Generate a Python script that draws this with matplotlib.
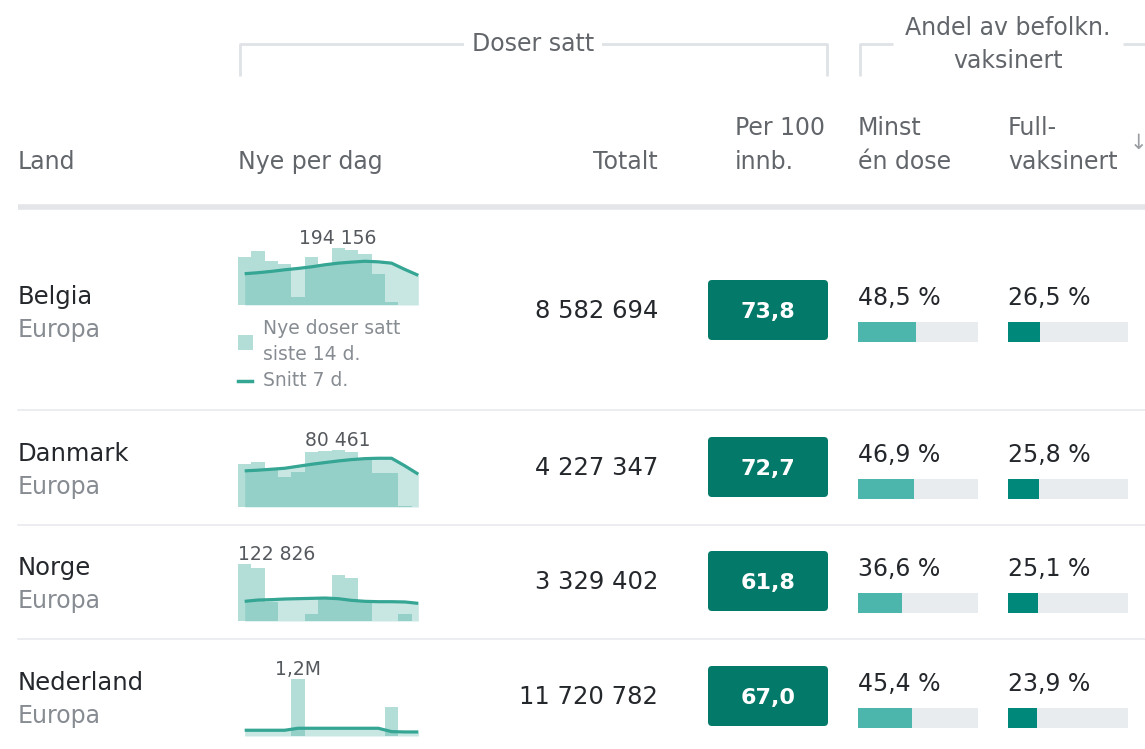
import numpy as np
import matplotlib
matplotlib.use("Agg")
import matplotlib.pyplot as plt
from matplotlib.patches import FancyBboxPatch, Rectangle

plt.rcParams["font.family"] = ["DejaVu Sans"]

# ── data ──
countries = ["Belgia", "Danmark", "Norge", "Nederland"]
regions = ["Europa", "Europa", "Europa", "Europa"]
totals = ["8 582 694", "4 227 347", "3 329 402", "11 720 782"]
per100 = ["73,8", "72,7", "61,8", "67,0"]
one_dose = [48.5, 46.9, 36.6, 45.4]
full_dose = [26.5, 25.8, 25.1, 23.9]
peak_labels = ["194 156", "80 461", "122 826", "1,2M"]

# new doses per day, last 14 days
daily_be = [162700, 185000, 151500, 138000, 28000, 165000, 134700, 194156, 187400, 174000, 106600, 11000, 0, 0]
daily_dk = [60800, 64000, 55700, 42000, 49000, 77000, 79000, 80461, 77000, 67800, 47700, 47700, 2000, 0]
daily_no = [122826, 113500, 41600, 0, 0, 15000, 46700, 99000, 92000, 42000, 0, 0, 15000, 0]
daily_nl = [0, 0, 0, 0, 1200000, 0, 0, 0, 0, 0, 0, 618000, 0, 0]

# 7-day average
avg_be = [106600, 110000, 114500, 120000, 124600, 130000, 137000, 142500, 146000, 149000, 147000, 142500, 121000, 101000]
avg_dk = [51000, 52000, 53300, 54700, 57500, 60300, 62700, 65000, 66900, 68300, 68800, 68800, 58000, 46300]
avg_no = [42400, 45200, 46000, 47400, 48100, 48800, 49500, 48100, 44500, 42400, 41600, 41600, 41000, 38000]
avg_nl = [121000, 121000, 121000, 121000, 163000, 163000, 163000, 163000, 163000, 163000, 163000, 92000, 85000, 85000]

daily = [daily_be, daily_dk, daily_no, daily_nl]
averages = [avg_be, avg_dk, avg_no, avg_nl]

# ── layout (pixels) ──
W, H = 1145, 749
row_centers = [310, 467, 581, 696]
spark_base = [305, 507, 621, 736]
separators = [410, 525, 639]

HEAD = "#62666b"
DARK = "#24272b"
MUTED = "#878c92"
TEAL = "#4fb3a6"
LINE = "#35a594"
BOX = "#037a69"
FILL_LIGHT = "#4db6ac"
FILL_DARK = "#00897a"
TRACK = "#e9ecef"
RULE = "#dfe2e6"
FS = 17          # header size
FN = 17.5        # country names / totals
FP = 17          # percentages, region

fig = plt.figure(figsize=(W / 100, H / 100), dpi=100)
ax = fig.add_axes([0, 0, 1, 1])
ax.set_xlim(0, W)
ax.set_ylim(H, 0)
ax.axis("off")

# ── group headers ──
ax.plot([240, 240, 827, 827], [76, 44, 44, 76], color=RULE, lw=2, solid_capstyle="butt")
ax.text(533, 51, "Doser satt", ha="center", va="baseline", fontsize=FS, color=HEAD,
        bbox=dict(facecolor="white", edgecolor="none", pad=6))
ax.plot([860, 860, 893], [76, 44, 44], color=RULE, lw=2, solid_capstyle="butt")
ax.plot([1123, 1145], [44, 44], color=RULE, lw=2, solid_capstyle="butt")
ax.text(1008, 35, "Andel av befolkn.", ha="center", va="baseline", fontsize=FS, color=HEAD)
ax.text(1008, 68, "vaksinert", ha="center", va="baseline", fontsize=FS, color=HEAD)

# ── column headers ──
ax.text(18, 169, "Land", ha="left", va="baseline", fontsize=FS, color=HEAD)
ax.text(238, 169, "Nye per dag", ha="left", va="baseline", fontsize=FS, color=HEAD)
ax.text(658, 169, "Totalt", ha="right", va="baseline", fontsize=FS, color=HEAD)
ax.text(735, 135, "Per 100", ha="left", va="baseline", fontsize=FS, color=HEAD)
ax.text(735, 169, "innb.", ha="left", va="baseline", fontsize=FS, color=HEAD)
ax.text(858, 135, "Minst", ha="left", va="baseline", fontsize=FS, color=HEAD)
ax.text(858, 169, "én dose", ha="left", va="baseline", fontsize=FS, color=HEAD)
ax.text(1008, 135, "Full-", ha="left", va="baseline", fontsize=FS, color=HEAD)
ax.text(1008, 169, "vaksinert", ha="left", va="baseline", fontsize=FS, color=HEAD)
ax.text(1138, 143, "↓", ha="center", va="center", fontsize=15, color="#9a9ea3")

ax.plot([18, W], [207, 207], color="#e3e5e8", lw=4, solid_capstyle="butt")
for y in separators:
    ax.plot([18, W], [y, y], color="#e8eaed", lw=1.2)

# ── rows ──
for i, c in enumerate(countries):
    yc = row_centers[i]
    ax.text(18, yc - 6, c, ha="left", va="baseline", fontsize=FN, color=DARK)
    ax.text(18, yc + 27, regions[i], ha="left", va="baseline", fontsize=FP, color=MUTED)
    ax.text(658, yc + 8, totals[i], ha="right", va="baseline", fontsize=FN, color=DARK)

    box = FancyBboxPatch((708, yc - 30), 120, 60, boxstyle="round,pad=0,rounding_size=4",
                         facecolor=BOX, edgecolor="none")
    ax.add_patch(box)
    ax.text(768, yc + 8, per100[i], ha="center", va="baseline", fontsize=16,
            color="white", fontweight="bold")

    ax.text(858, yc - 5, f"{one_dose[i]:.1f} %".replace(".", ","), ha="left",
            va="baseline", fontsize=FP, color=DARK)
    ax.text(1008, yc - 5, f"{full_dose[i]:.1f} %".replace(".", ","), ha="left",
            va="baseline", fontsize=FP, color=DARK)

    # progress bars
    for x0, val, col in [(858, one_dose[i], FILL_LIGHT), (1008, full_dose[i], FILL_DARK)]:
        pax = fig.add_axes([x0 / W, 1 - (yc + 32) / H, 120 / W, 20 / H])
        pax.barh([0], [100], height=1, color=TRACK)
        pax.barh([0], [val], height=1, color=col)
        pax.set_xlim(0, 100)
        pax.set_ylim(-0.5, 0.5)
        pax.axis("off")

    # sparkline: daily bars as one stepped polygon (no seams), 7-day avg as area + line
    vals = daily[i]
    avg = averages[i]
    xs = np.arange(len(vals))
    edges = np.arange(len(vals) + 1) - 0.5
    yb = spark_base[i]
    sax = fig.add_axes([238 / W, 1 - yb / H, 187 / W, 57 / H])
    sax.stairs(vals, edges, fill=True, color=TEAL, alpha=0.43, linewidth=0)
    sax.fill_between(xs, 0, avg, color=TEAL, alpha=0.31, linewidth=0)
    sax.plot(xs, avg, color=LINE, lw=2.3, solid_capstyle="butt")
    sax.set_xlim(-0.5, 13.5)
    sax.set_ylim(0, max(vals))
    sax.axis("off")
    k = int(np.argmax(vals))
    if k < 3:
        sax.text(-0.5, max(vals), peak_labels[i], ha="left", va="bottom", fontsize=13.5,
                 color="#55595e", clip_on=False)
    else:
        sax.text(k, max(vals), peak_labels[i], ha="center", va="bottom", fontsize=13.5,
                 color="#55595e", clip_on=False)

# legend under the first sparkline
ax.add_patch(Rectangle((238, 335), 15, 15, facecolor=TEAL, alpha=0.43, edgecolor="none"))
ax.text(263, 334, "Nye doser satt", ha="left", va="baseline", fontsize=13.5, color=MUTED)
ax.text(263, 360, "siste 14 d.", ha="left", va="baseline", fontsize=13.5, color=MUTED)
ax.plot([238, 252], [381, 381], color=LINE, lw=2.5)
ax.text(263, 386, "Snitt 7 d.", ha="left", va="baseline", fontsize=13.5, color=MUTED)

fig.savefig("out.png", dpi=100, facecolor="white")
